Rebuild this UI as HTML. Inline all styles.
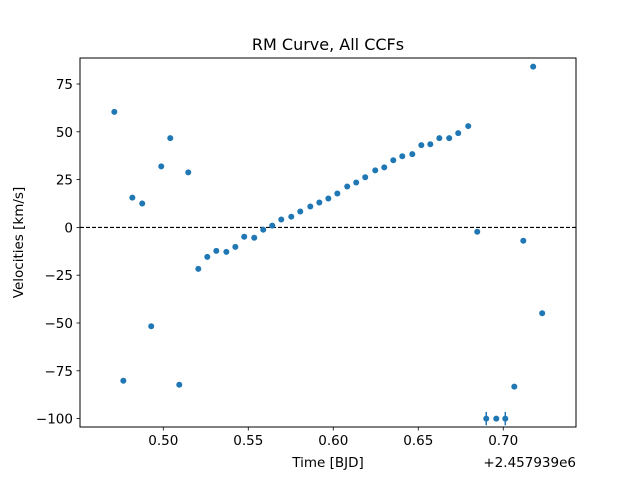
<!DOCTYPE html>
<html><head><meta charset="utf-8"><style>
body{margin:0;background:#fff;}
svg{display:block;font-family:"DejaVu Sans","Liberation Sans",sans-serif;}
</style></head><body>
<svg id="chart" width="640" height="480" viewBox="0 0 640 480">
<rect x="0" y="0" width="640" height="480" fill="#fff"/>
<g id="plot"></g>
</svg>
<script>
const times=[0.4712,0.4765,0.4818,0.4876,0.4929,0.4988,0.5041,0.5094,0.5147,0.5206,0.5259,0.5312,0.5371,0.5424,0.5476,0.5535,0.5588,0.5641,0.5694,0.5753,0.5806,0.5865,0.5918,0.5971,0.6024,0.6082,0.6135,0.6188,0.6247,0.6300,0.6353,0.6406,0.6465,0.6518,0.6571,0.6624,0.6682,0.6735,0.6794,0.6847,0.6900,0.6959,0.7012,0.7065,0.7118,0.7176,0.7229];
const velocities=[60.4,-80.2,15.6,12.5,-51.7,31.9,46.7,-82.3,28.8,-21.7,-15.4,-12.3,-12.8,-10.2,-4.9,-5.4,-1.2,0.9,4.1,5.6,8.3,10.9,13.0,15.1,17.7,21.4,23.5,26.2,29.8,31.4,35.1,37.2,38.3,43.0,43.5,46.7,46.7,49.3,53.0,-2.3,-100,-100,-100,-83.3,-7.0,84.1,-44.9];
const errors=[0.5,0.5,0.5,1.5,0.5,1.5,0.5,0.5,1.0,0.5,0.5,0.5,0.5,0.5,0.5,0.5,0.5,0.5,0.5,0.5,0.5,0.5,0.5,0.5,0.5,0.5,0.5,0.5,0.5,0.5,0.5,0.5,0.5,0.5,0.5,0.5,0.5,0.5,0.5,0.5,3.5,0.5,3.5,0.5,0.5,0.5,0.5];
const xTicks=[0.50,0.55,0.60,0.65,0.70];
const xTickLabels=["0.50","0.55","0.60","0.65","0.70"];
const yTicks=[75,50,25,0,-25,-50,-75,-100];
const yTickLabels=["75","50","25","0","\u221225","\u221250","\u221275","\u2212100"];

const L=80,R=576,T=58,B=427;
const xMin=0.4510,xMax=0.7428,yMin=-104.4,yMax=88.6;
const xs=v=>L+(v-xMin)/(xMax-xMin)*(R-L);
const ys=v=>B-(v-yMin)/(yMax-yMin)*(B-T);
const NS="http://www.w3.org/2000/svg";
const g=document.getElementById('plot');
function mk(tag,attrs,parent){const e=document.createElementNS(NS,tag);for(const k in attrs)e.setAttribute(k,attrs[k]);(parent||g).appendChild(e);return e;}

// zero line
const zl=mk('line',{x1:L,x2:R,y1:ys(0),y2:ys(0),stroke:'#000','stroke-width':1.1,'stroke-dasharray':'4,2'});



// points
for(let i=0;i<times.length;i++){
  const cx=xs(times[i]),cy=ys(velocities[i]);
  const eb=mk('line',{x1:cx,x2:cx,y1:ys(velocities[i]+errors[i]),y2:ys(velocities[i]-errors[i]),stroke:'#1f77b4','stroke-width':1.5});
  
  
  const c=mk('circle',{cx:cx,cy:cy,r:3,fill:'#1f77b4'});
  
  
}

// frame
const fr=mk('rect',{x:L,y:T,width:R-L,height:B-T,fill:'none',stroke:'#000','stroke-width':1});



// x ticks
xTicks.forEach((v,i)=>{
  const x=xs(v);
  const t=mk('line',{x1:x,x2:x,y1:B,y2:B+3.5,stroke:'#000','stroke-width':0.8});
  
  
  const lb=mk('text',{x:x,y:B+18,'font-size':13.5,'text-anchor':'middle',fill:'#000'});
  lb.textContent=xTickLabels[i];
  
  
});
// y ticks
yTicks.forEach((v,i)=>{
  const y=ys(v);
  const t=mk('line',{x1:L-3.5,x2:L,y1:y,y2:y,stroke:'#000','stroke-width':0.8});
  
  
  const lb=mk('text',{x:L-7,y:y+5,'font-size':13.5,'text-anchor':'end',fill:'#000'});
  lb.textContent=yTickLabels[i];
  
  
});

const title=mk('text',{x:(L+R)/2,y:50,'font-size':16,'text-anchor':'middle',fill:'#000'});
title.textContent='RM Curve, All CCFs';



const xl=mk('text',{x:(L+R)/2,y:467,'font-size':13.5,'text-anchor':'middle',fill:'#000'});
xl.textContent='Time [BJD]';



const off=mk('text',{x:R,y:467,'font-size':13.5,'text-anchor':'end',fill:'#000'});
off.textContent='+2.457939e6';



const yl=mk('text',{x:0,y:0,'font-size':13.5,'text-anchor':'middle',fill:'#000',transform:'translate(23,'+((T+B)/2)+') rotate(-90)'});
yl.textContent='Velocities [km/s]';


</script>
</body></html>
